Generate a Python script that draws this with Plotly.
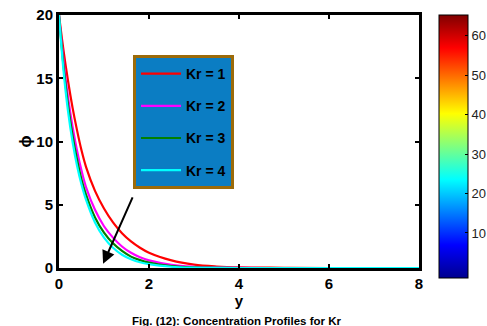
import plotly.graph_objects as go

y_vals = [0, 0.1, 0.2, 0.3, 0.4, 0.5, 0.6, 0.8, 1.0, 1.2, 1.4, 1.6, 1.8, 2.0, 2.5, 3.0, 3.5, 4.0, 5.0, 6.0, 7.0, 8.0]
phi_kr1 = [20, 17.2, 14.8, 12.7, 10.9, 9.3, 8.0, 6.1, 4.7, 3.6, 2.75, 2.1, 1.6, 1.2, 0.6, 0.27, 0.12, 0.05, 0.02, 0.0, 0.0, 0.0]
phi_kr2 = [20, 16.4, 13.5, 11.2, 9.3, 7.7, 6.4, 4.6, 3.3, 2.4, 1.7, 1.2, 0.85, 0.6, 0.25, 0.1, 0.04, 0.01, 0.0, 0.0, 0.0, 0.0]
phi_kr3 = [20, 16.0, 12.9, 10.5, 8.6, 7.0, 5.8, 4.0, 2.8, 1.95, 1.35, 0.9, 0.62, 0.42, 0.15, 0.05, 0.02, 0.0, 0.0, 0.0, 0.0, 0.0]
phi_kr4 = [20, 15.6, 12.4, 10.0, 8.1, 6.6, 5.4, 3.6, 2.4, 1.6, 1.05, 0.7, 0.45, 0.3, 0.1, 0.03, 0.01, 0.0, 0.0, 0.0, 0.0, 0.0]
series_names = ["Kr = 1", "Kr = 2", "Kr = 3", "Kr = 4"]
series_colors = ["#ff0000", "#ff00ff", "#008000", "#00ffff"]
x_ticks = [0, 2, 4, 6, 8]
y_ticks = [0, 5, 10, 15, 20]
cbar_ticks = [10, 20, 30, 40, 50, 60]
cbar_range = [-1.4, 65.2]

font = "Arial, Liberation Sans, sans-serif"
fig = go.Figure()
for i, (name, vals, col) in enumerate(zip(series_names, [phi_kr1, phi_kr2, phi_kr3, phi_kr4], series_colors)):
    fig.add_trace(go.Scatter(x=y_vals, y=vals, mode="lines", name="<b>%s</b>" % name,
                             line=dict(color=col, width=2.2, shape="spline", smoothing=1.0),
                             legendgroup="g%d" % i))

jet = [[0.0, "#00008f"], [0.125, "#0000ff"], [0.375, "#00ffff"], [0.625, "#ffff00"],
       [0.875, "#ff0000"], [1.0, "#800000"]]
fig.add_trace(go.Scatter(x=[None], y=[None], mode="markers", showlegend=False, hoverinfo="skip",
                         marker=dict(color=cbar_range, cmin=cbar_range[0], cmax=cbar_range[1],
                                     colorscale=jet, showscale=True,
                                     colorbar=dict(x=(439 - 59) / 360, xanchor="left", xpad=0, ypad=0,
                                                   y=(268 - 146.5) / 253, yanchor="middle",
                                                   lenmode="pixels", len=263, thickness=29,
                                                   thicknessmode="pixels",
                                                   outlinecolor="black", outlinewidth=1,
                                                   tickvals=cbar_ticks, ticks="inside", ticklen=3,
                                                   tickcolor="black", ticklabeloverflow="allow",
                                                   tickfont=dict(family=font, size=13, color="#222")))))

fig.add_annotation(x=0.98, y=0.33, ax=1.65, ay=5.7, xref="x", yref="y", axref="x", ayref="y",
                   showarrow=True, arrowhead=2, arrowsize=1.3, arrowwidth=2, arrowcolor="black", text="")
fig.add_annotation(x=0.5, y=0, xref="paper", yref="paper", xanchor="center", yanchor="top",
                   xshift=-3, yshift=-45,
                   text="<b>Fig. (12): Concentration Profiles for Kr</b>", showarrow=False,
                   font=dict(family=font, size=11.5, color="black"))

axis_common = dict(showline=True, linecolor="black", linewidth=3, mirror="ticks", ticks="inside",
                   ticklen=4, tickwidth=1.5, tickcolor="black", showgrid=False, zeroline=False,
                   ticklabeloverflow="allow",
                   tickfont=dict(family=font, size=15, color="black"))
fig.update_xaxes(range=[0, 8], tickvals=x_ticks, ticktext=["<b>%d</b>" % v for v in x_ticks],
                 title=dict(text="<b>y</b>", font=dict(family=font, size=15, color="black"), standoff=0),
                 **axis_common)
fig.update_yaxes(range=[0, 20], tickvals=y_ticks, ticktext=["<b>%d</b>" % v for v in y_ticks],
                 title=dict(text="<b>ϕ</b>", font=dict(family=font, size=16, color="black"), standoff=1),
                 **axis_common)
fig.update_layout(width=487, height=326, margin=dict(l=59, r=68, t=15, b=58, autoexpand=False),
                  plot_bgcolor="white", paper_bgcolor="white",
                  legend=dict(x=(133 - 59) / 360, y=(268 - 55) / 253, xanchor="left", yanchor="top",
                              bgcolor="#0b7dc3", bordercolor="#9c6b0a", borderwidth=3,
                              tracegroupgap=11, font=dict(family=font, size=14, color="black"),
                              itemwidth=40))
fig.write_html("out.html", config={"displayModeBar": False},
               post_script="document.body.style.margin='0';document.body.style.overflow='hidden';")
